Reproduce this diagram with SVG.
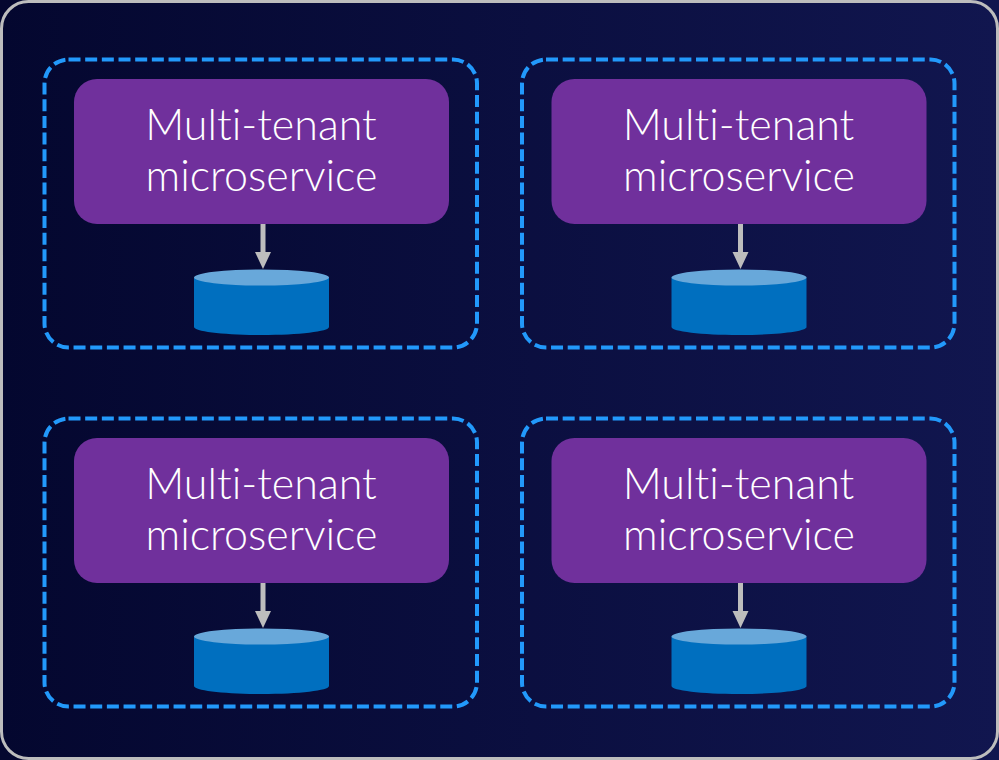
<svg xmlns="http://www.w3.org/2000/svg" width="999" height="760" viewBox="0 0 999 760">
<defs>
<linearGradient id="bg" x1="0" y1="0" x2="1" y2="0"><stop offset="0" stop-color="#04072f"/><stop offset="1" stop-color="#11164f"/></linearGradient>
<g id="db"><path class="cyl" d="M194 277.500V327C194 331.500 224 335 261.500 335S329 331.500 329 327V277.500Z"/><ellipse class="cap" cx="261.500" cy="277.500" rx="67.500" ry="8"/></g>
</defs>
<style>
.bgf{fill:url(#bg)}
.bgr{fill:none;stroke:#bdbdbd;stroke-width:3}
.zone{fill:none;stroke:#2299fb;stroke-width:4;stroke-dasharray:12 4.670}
.svc{fill:#70309c}
.cyl{fill:#006fbf}
.cap{fill:#68a8da}
.lbl{font-family:"Lato","Liberation Sans",sans-serif;font-weight:300;font-size:43px;fill:#fff;text-anchor:middle;font-variant-ligatures:none}
.conn{stroke:#bdbdbd;stroke-width:5;fill:none}
.head{fill:#bdbdbd}
</style>
<rect class="bgf" x="0" y="0" width="999" height="760"/>
<rect class="bgr" x="1.500" y="1.500" width="996" height="757" rx="27"/>
<g id="node-1"><rect class="zone" x="44.500" y="59.500" width="432.500" height="288" rx="24"/><rect class="svc" x="74" y="79" width="375" height="145" rx="23"/><text class="lbl" x="261" y="140">Multi-tenant</text><text class="lbl" x="261.500" y="191">microservice</text><use href="#db"/></g>
<g id="node-2" transform="translate(477.500 0)"><rect class="zone" x="44.500" y="59.500" width="432.500" height="288" rx="24"/><rect class="svc" x="74" y="79" width="375" height="145" rx="23"/><text class="lbl" x="261" y="140">Multi-tenant</text><text class="lbl" x="261.500" y="191">microservice</text><use href="#db"/></g>
<g id="node-3" transform="translate(0 359)"><rect class="zone" x="44.500" y="59.500" width="432.500" height="288" rx="24"/><rect class="svc" x="74" y="79" width="375" height="145" rx="23"/><text class="lbl" x="261" y="140">Multi-tenant</text><text class="lbl" x="261.500" y="191">microservice</text><use href="#db"/></g>
<g id="node-4" transform="translate(477.500 359)"><rect class="zone" x="44.500" y="59.500" width="432.500" height="288" rx="24"/><rect class="svc" x="74" y="79" width="375" height="145" rx="23"/><text class="lbl" x="261" y="140">Multi-tenant</text><text class="lbl" x="261.500" y="191">microservice</text><use href="#db"/></g>
<g id="connectors">
<path class="conn" d="M263 224V252"/><path class="head" d="M255 252H271L263 269Z"/>
<path class="conn" d="M740.500 224V252"/><path class="head" d="M732.500 252H748.500L740.500 269Z"/>
<path class="conn" d="M263 583V611"/><path class="head" d="M255 611H271L263 628Z"/>
<path class="conn" d="M740.500 583V611"/><path class="head" d="M732.500 611H748.500L740.500 628Z"/>
</g>
</svg>
